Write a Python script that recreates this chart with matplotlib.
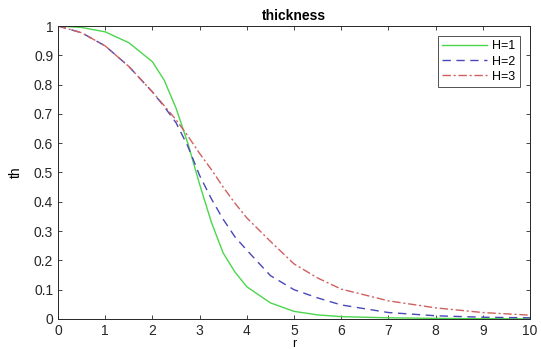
import numpy as np
import matplotlib.pyplot as plt

plt.rcParams['font.family'] = ['Liberation Sans', 'DejaVu Sans']

r = [0, 0.5, 1, 1.5, 2, 2.25, 2.5, 2.75, 3, 3.25, 3.5, 3.75, 4, 4.5, 5, 5.5, 6, 7, 8, 9, 10]
th_h1 = [1.0, 0.995, 0.98, 0.943, 0.878, 0.815, 0.72, 0.6, 0.46, 0.33, 0.225, 0.16, 0.11,
         0.055, 0.026, 0.014, 0.008, 0.004, 0.002, 0.001, 0.0005]
th_h2 = [1.0, 0.977, 0.932, 0.862, 0.775, 0.725, 0.67, 0.59, 0.49, 0.41, 0.34, 0.28, 0.235,
         0.148, 0.1, 0.072, 0.048, 0.022, 0.011, 0.006, 0.004]
th_h3 = [1.0, 0.977, 0.932, 0.862, 0.775, 0.728, 0.68, 0.625, 0.565, 0.51, 0.45, 0.395, 0.345,
         0.265, 0.188, 0.14, 0.102, 0.062, 0.038, 0.022, 0.013]
labels = ['H=1', 'H=2', 'H=3']

fig = plt.figure(figsize=(5.41, 3.49), dpi=100)
ax = fig.add_axes([0.1072, 0.086, 0.8725, 0.8395])

ax.plot(r, th_h1, color='#4cd64c', lw=1.0, ls='-', label=labels[0])
ax.plot(r, th_h2, color='#4848b8', lw=1.0, ls=(0, (6, 4)), label=labels[1])
ax.plot(r, th_h3, color='#d06060', lw=1.0, ls=(0, (6, 2, 1.5, 2)), label=labels[2])

ax.set_xlim(0, 10)
ax.set_ylim(0, 1)
ax.set_xticks(np.arange(0, 11, 1))
ax.set_yticks(np.arange(0, 1.01, 0.1))
ax.set_yticklabels(['0', '0.1', '0.2', '0.3', '0.4', '0.5', '0.6', '0.7', '0.8', '0.9', '1'])
ax.tick_params(direction='in', top=True, right=True, length=3, width=0.6,
               labelsize=10, colors='#262626')
for s in ax.spines.values():
    s.set_color('#262626')
    s.set_linewidth(0.7)

ax.set_title('thickness', fontsize=10, fontweight='bold', pad=4)
ax.set_ylabel('th', fontsize=10, labelpad=8)
ax.set_xlabel('r', fontsize=9, labelpad=0)

leg = ax.legend(loc='upper right', fontsize=9, frameon=True, fancybox=False,
                handlelength=3.6, borderpad=0.35, labelspacing=0.25,
                handletextpad=0.4, borderaxespad=0.8)
leg.get_frame().set_edgecolor('#262626')
leg.get_frame().set_linewidth(0.7)

fig.savefig('out.png', dpi=100)
